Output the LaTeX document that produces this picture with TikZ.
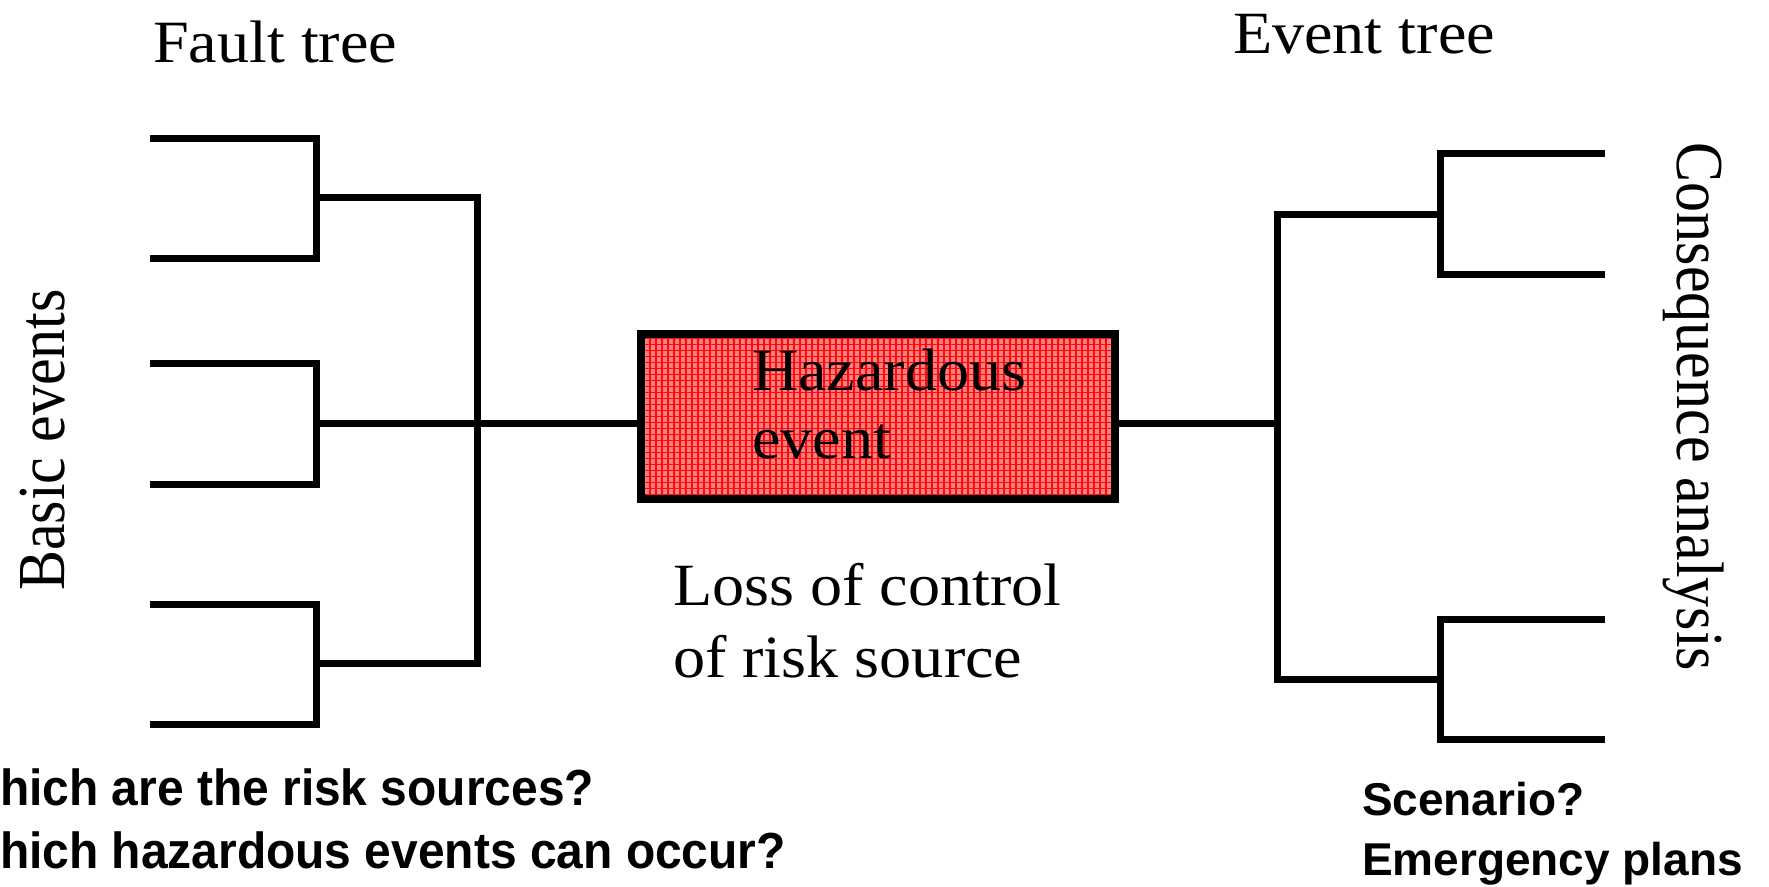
\documentclass[tikz,border=0pt]{standalone}
\usepackage{fontspec}
\setmainfont{Liberation Serif}
\setsansfont{Liberation Sans}
\usepackage{graphicx}
\definecolor{hazpink}{RGB}{255,128,128}
\definecolor{hazgrid}{RGB}{255,10,10}
\begin{document}
\begin{tikzpicture}[x=1pt,y=-1pt,
  tline/.style={line width=7pt, line join=miter, line cap=butt},
  serif/.style={inner sep=0pt, outer sep=0pt, anchor=base west, font=\fontsize{60}{72}\selectfont},
  boldtext/.style={inner sep=0pt, outer sep=0pt, anchor=base west, font=\sffamily\bfseries\fontsize{47}{59}\selectfont},
  hazbox/.style={draw, line width=8pt, fill=hazpink, minimum width=474pt, minimum height=165pt,
    inner sep=0pt, outer sep=0pt,
    path picture={\draw[hazgrid, line width=1.2pt] (path picture bounding box.south west) grid[step=6pt] (path picture bounding box.north east);}}
]
\useasboundingbox (0,0) rectangle (1769,886);

% hazardous event box
\node[hazbox] (haz) at (878,416.5) {};
\node[serif, font=\fontsize{60}{68}\selectfont] (hazlabel) at (752,390)
  {\scalebox{1.07}[1]{\begin{tabular}[t]{@{}l@{}}Hazardous\\event\end{tabular}}};

% fault tree coordinates
\coordinate (L1) at (150,138);
\coordinate (L2) at (150,258);
\coordinate (L3) at (150,363);
\coordinate (L4) at (150,484);
\coordinate (L5) at (150,604);
\coordinate (L6) at (150,724);
\coordinate (J1) at (316,197);
\coordinate (J2) at (316,423);
\coordinate (J3) at (316,663);
\coordinate (K) at (477,423);

\draw[tline] (L1) -| (J1) |- (L2);
\draw[tline] (L3) -| (J2) |- (L4);
\draw[tline] (L5) -| (J3) |- (L6);
\draw[tline] (J1) -| (K) |- (J3);
\draw[tline] (J2) -- (J2 -| haz.west);

% event tree coordinates
\coordinate (EK) at (1277,423);
\coordinate (M1) at (1440,214);
\coordinate (M2) at (1440,679);
\coordinate (R1) at (1605,153);
\coordinate (R2) at (1605,274);
\coordinate (R3) at (1605,619);
\coordinate (R4) at (1605,739);

\draw[tline] (haz.east |- EK) -- (EK);
\draw[tline] (M1) -| (EK) |- (M2);
\draw[tline] (R1) -| (M1) |- (R2);
\draw[tline] (R3) -| (M2) |- (R4);

% labels
\node[serif] (fault) at (153,62) {\scalebox{1.07}[1]{Fault tree}};
\node[serif] (event) at (1233,53) {\scalebox{1.07}[1]{Event tree}};
\node[serif] (loss) at (673,605)
  {\scalebox{1.07}[1]{\begin{tabular}[t]{@{}l@{}}Loss of control\\of risk source\end{tabular}}};
\node[serif, anchor=base, rotate=90] (basic) at (64,440) {\scalebox{1}[1.12]{Basic events}};
\node[serif, anchor=base, rotate=-90] (conseq) at (1677,407) {\scalebox{1}[1.12]{Consequence analysis}};

\node[boldtext] (q1) at (0,805)
  {\scalebox{1.02}[1.08]{\begin{tabular}[t]{@{}l@{}}hich are the risk sources?\\hich hazardous events can occur?\end{tabular}}};
\node[boldtext, font=\sffamily\bfseries\fontsize{46}{60}\selectfont] (q2) at (1362,815)
  {\begin{tabular}[t]{@{}l@{}}Scenario?\\Emergency plans\end{tabular}};
\end{tikzpicture}
\end{document}
